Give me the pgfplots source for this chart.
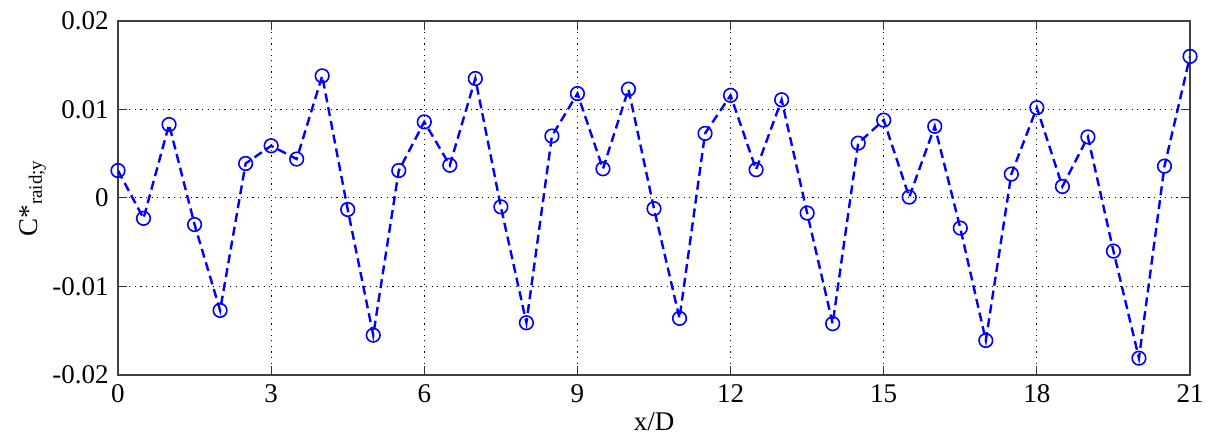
\documentclass[border=0pt]{standalone}
\usepackage{pgfplots}
\pgfplotsset{compat=1.18}
\usepackage{fontspec}
\setmainfont{Liberation Serif}
\begin{document}
\fontsize{13.5}{16}\selectfont
\begin{tikzpicture}
\begin{axis}[
  scale only axis,
  width=536pt, height=177pt,
  xmin=0, xmax=21, ymin=-0.02, ymax=0.02,
  xtick={0,3,6,9,12,15,18,21},
  xticklabels={0,3,6,9,12,15,18,21},
  ytick={-0.02,-0.01,0,0.01,0.02},
  yticklabels={-0.02,-0.01,0,0.01,0.02},
  tick align=inside,
  major tick length=4.5pt,
  tick style={black!80, line width=0.5pt},
  axis line style={black!75, line width=0.6pt},
  grid=major,
  major grid style={black, dash pattern=on 0.6pt off 2.2pt, line width=0.5pt},
  xlabel={x/D},
  ylabel={C*\textsubscript{raid;y}},
  xlabel style={yshift=4pt},
  ylabel style={yshift=-6pt},
  tick label style={font=\rmfamily\fontsize{13.5}{16}\selectfont},
  label style={font=\rmfamily\fontsize{13.5}{16}\selectfont},
  scaled y ticks=false,
]
\addplot[blue, line width=1.2pt, dash pattern=on 4.5pt off 2.5pt,
  mark=o, mark size=3.4pt, mark options={solid, line width=0.8pt}]
coordinates {
(0,0.0031) (0.5,-0.0023) (1,0.0083) (1.5,-0.0030) (2,-0.0127)
(2.5,0.0039) (3,0.0059) (3.5,0.0044) (4,0.0138) (4.5,-0.0013)
(5,-0.0155) (5.5,0.0031) (6,0.0086) (6.5,0.0037) (7,0.0135)
(7.5,-0.0010) (8,-0.0141) (8.5,0.0070) (9,0.0118) (9.5,0.0033)
(10,0.0123) (10.5,-0.0012) (11,-0.0136) (11.5,0.0073) (12,0.0116)
(12.5,0.0032) (13,0.0111) (13.5,-0.0017) (14,-0.0142) (14.5,0.0062)
(15,0.0088) (15.5,0.0001) (16,0.0081) (16.5,-0.0034) (17,-0.0161)
(17.5,0.0027) (18,0.0102) (18.5,0.0013) (19,0.0069) (19.5,-0.0060)
(20,-0.0181) (20.5,0.0036) (21,0.0160)
};
\end{axis}
\pgfresetboundingbox
\path[use as bounding box] (-59pt,-31pt) rectangle (546pt,187.5pt);
\end{tikzpicture}
\end{document}
